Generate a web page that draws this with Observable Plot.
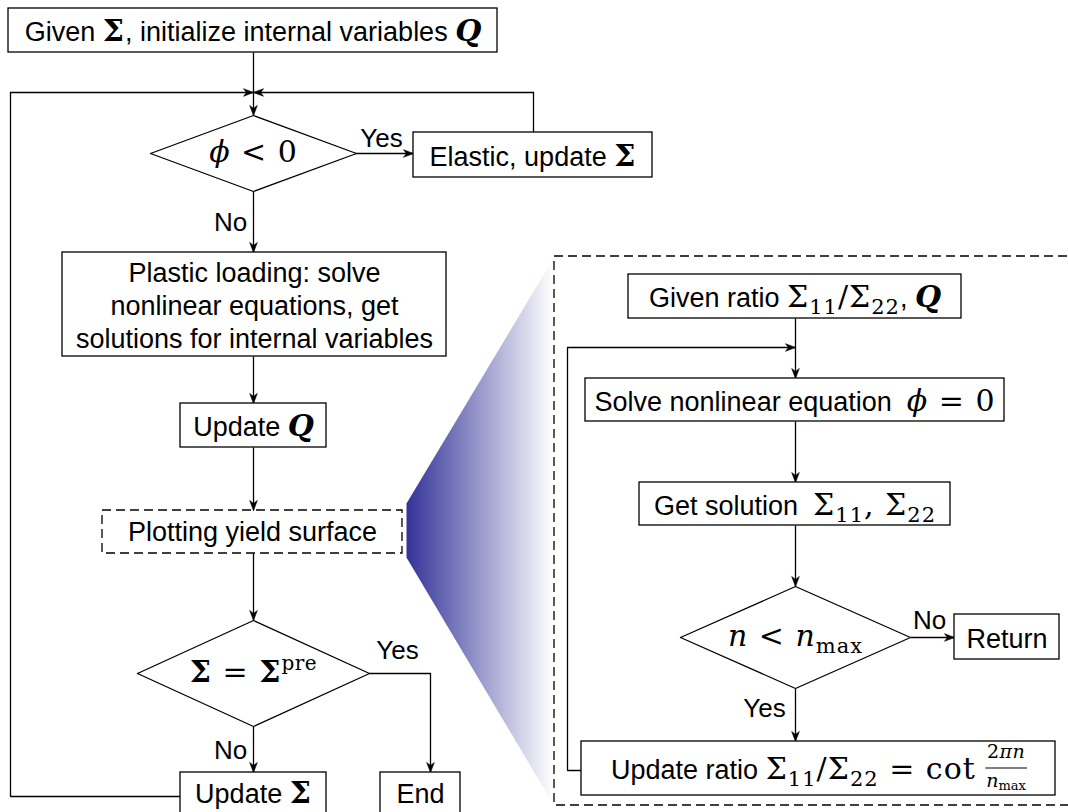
<!DOCTYPE html>
<html>
<head>
<meta charset="utf-8">
<script src="https://cdn.jsdelivr.net/npm/d3@7"></script>
<script src="https://cdn.jsdelivr.net/npm/@observablehq/plot@0.6"></script>
<style>
html, body { margin: 0; padding: 0; background: #fff; overflow: hidden; }
#chart svg { display: block; }
</style>
</head>
<body>
<div id="chart"></div>
<script>
// ---------- flowchart content (labels use a tiny markup for math: {kind:text}) ----------
const boxLabels = [
  "Given {b:Σ}, initialize internal variables {bi:Q}",
  "Elastic, update {b:Σ}",
  "Plastic loading: solve\nnonlinear equations, get\nsolutions for internal variables",
  "Update {bi:Q}",
  "Update {b:Σ}",
  "End",
  "Given ratio {r:Σ}{sub:11}{r:/Σ}{sub:22}, {bi:Q}",
  "Solve nonlinear equation  {i:ϕ}{r: = 0}",
  "Get solution  {r:Σ}{sub:11}{r:, Σ}{sub:22}",
  "Return",
  "Update ratio {r:Σ}{sub:11}{r:/Σ}{sub:22}{r: = cot }{num:2}{numi:πn}{deni:n}{densub:max}"
];
// box bounds: [x1, y1, x2, y2] in the diagram's pixel space
const boxBounds = [
  [8, 8, 497, 52],
  [413, 132, 652, 177],
  [62, 252, 446, 356],
  [180, 403, 326, 447],
  [180, 772, 326, 840],
  [380, 772, 460, 840],
  [628, 274, 961, 318],
  [585, 378, 1004, 421],
  [639, 482, 950, 525],
  [954, 614, 1059, 659],
  [581, 741, 1055, 795]
];
const dashedLabels = ["Plotting yield surface", ""];
const dashedBounds = [[102, 510, 402, 553], [554, 256, 1090, 805]];

const diamondLabels = ["{i:ϕ}{r: < 0}", "{b:Σ}{r: = }{b:Σ}{sup:pre}", "{i:n}{r: < }{i:n}{sub:max}"];
// [cx, cy, half-width, half-height]
const diamondShapes = [[253, 153, 103, 38], [253, 673, 116, 53], [795, 637, 115, 51]];

// arrows: [x1, y1, x2, y2]
const arrowSegs = [
  [253, 52, 253, 115], [10, 92, 253, 92], [533, 92, 253, 92], [355, 153, 413, 153],
  [253, 191, 253, 252], [253, 356, 253, 403], [253, 447, 253, 510], [253, 553, 253, 620],
  [253, 726, 253, 772], [430, 673, 430, 772],
  [795, 318, 795, 378], [567, 347, 795, 347], [795, 421, 795, 482], [795, 525, 795, 586],
  [910, 637, 954, 637], [795, 688, 795, 741]
];
// plain connector polylines
const connectorPaths = [
  [[533, 132], [533, 92]],
  [[180, 796], [10, 796], [10, 92]],
  [[369, 673], [430, 673]],
  [[581, 770], [567, 770], [567, 347]]
];
const branchLabels = ["Yes", "No", "Yes", "No", "No", "Yes"];
const branchPos = [[381, 138], [230, 222], [397, 650], [230, 750], [929, 620], [764, 708]];

// zoom "fan" linking the dashed step to its detail panel
const fanPolygon = [[406, 503], [553, 258], [553, 804], [406, 557], [406, 503]];
const fanColors = ["#333399", "#ffffff"];

// ---------- build mark tables ----------
const SANS = "'Liberation Sans', Arial, Helvetica, sans-serif";
const SERIF = "'DejaVu Serif', 'Liberation Serif', serif";

const boxData = boxLabels.map((label, i) => {
  const [x1, y1, x2, y2] = boxBounds[i];
  return {label, x1, y1, x2, y2, cx: (x1 + x2) / 2, cy: (y1 + Math.min(y2, 812)) / 2};
});
const dashedData = dashedLabels.map((label, i) => {
  const [x1, y1, x2, y2] = dashedBounds[i];
  return {label, x1, y1, x2, y2, cx: (x1 + x2) / 2, cy: (y1 + y2) / 2};
});
const diamondPts = diamondShapes.flatMap(([cx, cy, hw, hh], k) =>
  [[cx - hw, cy], [cx, cy - hh], [cx + hw, cy], [cx, cy + hh], [cx - hw, cy]].map(([x, y]) => ({x, y, k})));
const diamondData = diamondLabels.map((label, i) => ({label, x: diamondShapes[i][0], y: diamondShapes[i][1]}));
const arrowData = arrowSegs.map(([x1, y1, x2, y2]) => ({x1, y1, x2, y2}));
// filled "stealth" heads derived from each arrow's end and direction
const HEAD_L = 10, HEAD_W = 3.8, HEAD_N = 7;
const headPts = arrowSegs.flatMap(([x1, y1, x2, y2], k) => {
  const len = Math.hypot(x2 - x1, y2 - y1), ux = (x2 - x1) / len, uy = (y2 - y1) / len;
  const nx = -uy, ny = ux;
  return [
    [x2, y2],
    [x2 - HEAD_L * ux + HEAD_W * nx, y2 - HEAD_L * uy + HEAD_W * ny],
    [x2 - HEAD_N * ux, y2 - HEAD_N * uy],
    [x2 - HEAD_L * ux - HEAD_W * nx, y2 - HEAD_L * uy - HEAD_W * ny],
    [x2, y2]
  ].map(([x, y]) => ({x, y, k}));
});
const connectorPts = connectorPaths.flatMap((pts, k) => pts.map(([x, y]) => ({x, y, k})));
const branchData = branchLabels.map((label, i) => ({label, x: branchPos[i][0], y: branchPos[i][1]}));
const fanPts = fanPolygon.map(([x, y]) => ({x, y}));

const SW = 1.3;
const plot = Plot.plot({
  width: 1068,
  height: 812,
  margin: 0,
  x: {domain: [0, 1068], axis: null},
  y: {domain: [0, 812], range: [0, 812], axis: null},
  style: {background: "white", overflow: "hidden"},
  marks: [
    Plot.line(fanPts, {x: "x", y: "y", fill: "url(#fanGrad)", stroke: "none"}),
    Plot.line(connectorPts, {x: "x", y: "y", z: "k", stroke: "black", strokeWidth: SW, strokeLinejoin: "miter"}),
    Plot.link(arrowData, {x1: "x1", y1: "y1", x2: "x2", y2: "y2", stroke: "black", strokeWidth: SW}),
    Plot.line(headPts, {x: "x", y: "y", z: "k", fill: "black", stroke: "black", strokeWidth: 0.6, strokeLinejoin: "miter"}),
    Plot.rect(boxData, {x1: "x1", y1: "y1", x2: "x2", y2: "y2", fill: "white", stroke: "black", strokeWidth: SW}),
    Plot.rect(dashedData, {x1: "x1", y1: "y1", x2: "x2", y2: "y2", fill: "none", stroke: "black", strokeWidth: SW, strokeDasharray: "9,5"}),
    Plot.line(diamondPts, {x: "x", y: "y", z: "k", fill: "white", stroke: "black", strokeWidth: SW, strokeLinejoin: "miter"}),
    Plot.text(boxData, {x: "cx", y: "cy", text: "label", fontSize: 27, fontFamily: SANS, lineHeight: 1.22, fill: "black"}),
    Plot.text(dashedData, {x: "cx", y: "cy", text: "label", fontSize: 27, fontFamily: SANS, fill: "black"}),
    Plot.text(diamondData, {x: "x", y: "y", text: "label", fontSize: 27, fontFamily: SANS, fill: "black"}),
    Plot.text(branchData, {x: "x", y: "y", text: "label", fontSize: 26, fontFamily: SANS, fill: "black"})
  ]
});

document.getElementById("chart").appendChild(plot);

// gradient definition for the fan
const xs = plot.scale("x");
const defs = d3.select(plot).insert("defs", ":first-child");
const grad = defs.append("linearGradient").attr("id", "fanGrad")
  .attr("gradientUnits", "userSpaceOnUse")
  .attr("x1", xs.apply(fanPolygon[0][0])).attr("x2", xs.apply(fanPolygon[1][0]))
  .attr("y1", 0).attr("y2", 0);
grad.append("stop").attr("offset", 0).attr("stop-color", fanColors[0]);
grad.append("stop").attr("offset", 1).attr("stop-color", fanColors[1]);

// ---------- rich (math) text ----------
const NS = "http://www.w3.org/2000/svg";
const MATH = 30;
const kinds = {
  b:      {weight: "bold", style: "normal", size: MATH, dy: 0, ls: 1},
  bi:     {weight: "bold", style: "italic", size: MATH, dy: 0, ls: 0},
  i:      {weight: "normal", style: "italic", size: MATH, dy: 0, ls: 1},
  r:      {weight: "normal", style: "normal", size: MATH, dy: 0, ls: 1},
  sub:    {weight: "normal", style: "normal", size: 21, dy: 7, ls: 1},
  sup:    {weight: "normal", style: "normal", size: 20, dy: -12, ls: 0.5},
  num:    {weight: "normal", style: "normal", size: 19, dy: -21, ls: 0.5},
  numi:   {weight: "normal", style: "italic", size: 19, dy: -21, ls: 0.5},
  deni:   {weight: "normal", style: "italic", size: 19, dy: 8, ls: 0},
  densub: {weight: "normal", style: "normal", size: 13, dy: 11, ls: 0}
};
function richify(el) {
  const src = el.textContent;
  if (!src.includes("{")) return;
  el.textContent = "";
  el.style.whiteSpace = "pre";
  const re = /\{(\w+):([^}]*)\}|([^{]+)/g;
  let m, cur = 0;
  const parts = [];
  while ((m = re.exec(src))) {
    const t = document.createElementNS(NS, "tspan");
    const kind = m[3] !== undefined ? "sans" : m[1];
    t.textContent = m[3] !== undefined ? m[3] : m[2];
    const s = kinds[kind];
    let want = 0;
    if (s) {
      t.setAttribute("font-family", SERIF);
      t.setAttribute("font-weight", s.weight);
      t.setAttribute("font-style", s.style);
      t.setAttribute("font-size", s.size);
      if (s.ls) t.setAttribute("letter-spacing", s.ls);
      want = s.dy;
    }
    if (want !== cur) t.setAttribute("dy", want - cur);
    cur = want;
    el.appendChild(t);
    parts.push({t, kind});
  }
  const num = parts.filter(p => p.kind.startsWith("num"));
  const den = parts.filter(p => p.kind.startsWith("den"));
  if (num.length && den.length) {
    const numW = d3.sum(num, p => p.t.getComputedTextLength());
    const denW = d3.sum(den, p => p.t.getComputedTextLength());
    const shift = Math.max(0, (denW - numW) / 2);
    if (shift) num[0].t.setAttribute("dx", shift);
    den[0].t.setAttribute("dx", -(numW + denW) / 2);
    const n0 = num[0].t.getStartPositionOfChar(0);
    const d0 = den[0].t.getStartPositionOfChar(0);
    const left = Math.min(n0.x, d0.x) - 1;
    const right = Math.max(n0.x + numW, d0.x + denW) + 1;
    const base = n0.y - kinds.num.dy;
    const barY = base - 11;
    const line = document.createElementNS(NS, "line");
    line.setAttribute("x1", left); line.setAttribute("x2", right);
    line.setAttribute("y1", barY); line.setAttribute("y2", barY);
    line.setAttribute("stroke", "black"); line.setAttribute("stroke-width", 1.1);
    const tr = el.getAttribute("transform");
    if (tr) line.setAttribute("transform", tr);
    el.parentNode.appendChild(line);
  }
}
plot.querySelectorAll("text").forEach(richify);
</script>
</body>
</html>
